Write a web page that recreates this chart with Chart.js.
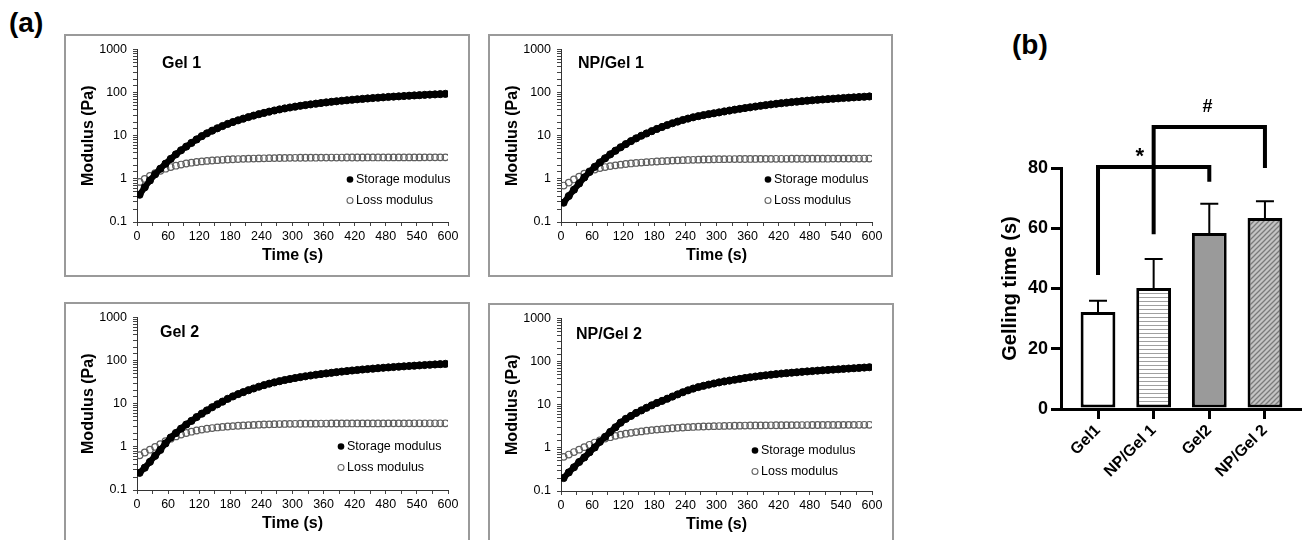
<!DOCTYPE html>
<html>
<head>
<meta charset="utf-8">
<script src="https://cdn.jsdelivr.net/npm/chart.js@4.4.1/dist/chart.umd.min.js"></script>
<style>
  body { margin: 0; width: 1302px; height: 540px; background: #fff; position: relative; overflow: hidden;
         font-family: "Liberation Sans", Arial, sans-serif; }
  .panel { position: absolute; border: 2px solid #9a9a9a; box-sizing: border-box; }
  .panel canvas { position: absolute; left: 0; top: 0; }
  .tag { position: absolute; font-weight: bold; font-size: 28px; line-height: 32px; }
  #bars { position: absolute; left: 990px; top: 60px; }
</style>
</head>
<body>
<div class="tag" style="left:9px;top:7px">(a)</div>
<div class="tag" style="left:1012px;top:29px">(b)</div>

<div class="panel" style="left:64px;top:34px;width:406px;height:243px"><canvas id="c1" width="402" height="239"></canvas></div>
<div class="panel" style="left:488px;top:34px;width:405px;height:243px"><canvas id="c2" width="401" height="239"></canvas></div>
<div class="panel" style="left:64px;top:302px;width:406px;height:250px"><canvas id="c3" width="402" height="239"></canvas></div>
<div class="panel" style="left:488px;top:303px;width:406px;height:250px"><canvas id="c4" width="402" height="239"></canvas></div>
<canvas id="bars" width="312" height="480"></canvas>

<script>
// datos (a): tiempo en s, modulos en Pa
const times = [5, 15, 25, 35, 45, 55, 65, 75, 85, 95, 105, 115, 125, 135, 145, 155, 165, 175, 185, 195,
  205, 215, 225, 235, 245, 255, 265, 275, 285, 295, 305, 315, 325, 335, 345, 355, 365, 375, 385, 395,
  405, 415, 425, 435, 445, 455, 465, 475, 485, 495, 505, 515, 525, 535, 545, 555, 565, 575, 585, 595];

const gel1Storage = [0.43, 0.64, 0.92, 1.28, 1.72, 2.25, 2.9, 3.7, 4.6, 5.6,
  6.8, 8.2, 9.8, 11.4, 13.1, 14.9, 16.8, 18.8, 20.8, 22.8,
  24.9, 27.1, 29.3, 31.6, 33.9, 36.2, 38.5, 40.8, 43, 45.2,
  47.3, 49.4, 51.4, 53.4, 55.4, 57.4, 59.3, 61.2, 63, 64.8,
  66.6, 68.3, 70, 71.6, 73.2, 74.8, 76.3, 77.8, 79.3, 80.7,
  82.1, 83.5, 84.8, 86.1, 87.4, 88.7, 89.9, 91.1, 92.3, 93.5];
const gel1Loss = [0.85, 1.0, 1.17, 1.35, 1.54, 1.72, 1.88, 2.02, 2.15, 2.27,
  2.37, 2.46, 2.54, 2.61, 2.67, 2.72, 2.77, 2.81, 2.85, 2.88,
  2.91, 2.94, 2.96, 2.98, 3.0, 3.02, 3.03, 3.05, 3.06, 3.07,
  3.08, 3.09, 3.09, 3.1, 3.1, 3.11, 3.11, 3.12, 3.12, 3.12,
  3.13, 3.13, 3.13, 3.13, 3.14, 3.14, 3.14, 3.14, 3.14, 3.15,
  3.15, 3.15, 3.15, 3.15, 3.15, 3.16, 3.16, 3.16, 3.16, 3.16];

const npGel1Storage = [0.28, 0.4, 0.56, 0.78, 1.08, 1.45, 1.9, 2.4, 3.0, 3.7,
  4.5, 5.4, 6.4, 7.5, 8.7, 10.0, 11.3, 12.8, 14.4, 16.0,
  17.7, 19.5, 21.3, 23.2, 25.0, 26.8, 28.5, 30.1, 31.7, 33.2,
  34.8, 36.6, 38.4, 40.2, 42.0, 43.8, 45.6, 47.5, 49.4, 51.3,
  53.2, 55.0, 56.8, 58.5, 60.2, 61.8, 63.4, 65.0, 66.5, 68.0,
  69.4, 70.8, 72.2, 73.6, 75.0, 76.3, 77.6, 78.9, 80.2, 81.5];
const npGel1Loss = [0.7, 0.82, 0.97, 1.12, 1.32, 1.5, 1.65, 1.78, 1.88, 1.98,
  2.06, 2.14, 2.21, 2.28, 2.34, 2.39, 2.44, 2.49, 2.53, 2.57,
  2.61, 2.65, 2.69, 2.72, 2.75, 2.77, 2.79, 2.81, 2.83, 2.85,
  2.86, 2.87, 2.88, 2.88, 2.89, 2.89, 2.9, 2.9, 2.91, 2.91,
  2.91, 2.92, 2.92, 2.92, 2.93, 2.93, 2.93, 2.93, 2.94, 2.94,
  2.94, 2.94, 2.95, 2.95, 2.95, 2.95, 2.95, 2.96, 2.96, 2.96];

const gel2Storage = [0.25, 0.33, 0.45, 0.62, 0.85, 1.2, 1.65, 2.1, 2.65, 3.3,
  4.0, 4.9, 5.9, 7.0, 8.3, 9.7, 11.2, 13.0, 14.8, 16.7,
  18.6, 20.6, 22.6, 24.8, 27, 29.2, 31.3, 33.4, 35.5, 37.5,
  39.5, 41.4, 43.3, 45.2, 47, 48.8, 50.5, 52.2, 54, 55.6,
  57.3, 59, 60.6, 62.2, 63.7, 65.2, 66.7, 68.2, 69.6, 71,
  72.4, 73.7, 75, 76.3, 77.6, 78.9, 80.2, 81.5, 82.8, 84];
const gel2Loss = [0.64, 0.74, 0.86, 1.0, 1.15, 1.35, 1.55, 1.75, 1.93, 2.1,
  2.25, 2.4, 2.52, 2.63, 2.73, 2.82, 2.9, 2.97, 3.03, 3.09,
  3.14, 3.19, 3.23, 3.27, 3.3, 3.33, 3.36, 3.38, 3.4, 3.42,
  3.43, 3.44, 3.45, 3.46, 3.46, 3.47, 3.47, 3.48, 3.48, 3.48,
  3.49, 3.49, 3.49, 3.5, 3.5, 3.5, 3.5, 3.5, 3.51, 3.51,
  3.51, 3.51, 3.51, 3.52, 3.52, 3.52, 3.52, 3.52, 3.52, 3.52];

const npGel2Storage = [0.2, 0.27, 0.355, 0.47, 0.6, 0.79, 1.02, 1.38, 1.8, 2.34,
  3.0, 3.85, 4.7, 5.5, 6.46, 7.4, 8.5, 9.7, 11.0, 12.3,
  13.8, 15.5, 17.4, 19.5, 21.6, 23.7, 25.7, 27.5, 29.3, 31.1,
  33.0, 34.7, 36.3, 38.0, 39.8, 41.7, 43.4, 45.0, 46.6, 48.2,
  49.8, 51.3, 52.7, 54.1, 55.3, 56.6, 58.0, 59.2, 60.4, 61.7,
  63.0, 64.1, 65.3, 66.5, 67.8, 69.0, 70.3, 71.6, 72.8, 74.1];
const npGel2Loss = [0.62, 0.7, 0.8, 0.91, 1.04, 1.18, 1.33, 1.5, 1.64, 1.77,
  1.9, 2.02, 2.13, 2.23, 2.32, 2.41, 2.5, 2.58, 2.65, 2.72,
  2.79, 2.85, 2.91, 2.97, 3.02, 3.06, 3.1, 3.13, 3.16, 3.19,
  3.21, 3.23, 3.25, 3.26, 3.28, 3.29, 3.3, 3.31, 3.32, 3.33,
  3.34, 3.35, 3.35, 3.36, 3.37, 3.37, 3.38, 3.38, 3.39, 3.39,
  3.4, 3.4, 3.41, 3.41, 3.42, 3.42, 3.42, 3.43, 3.43, 3.43];

const logLabels = [0.1, 1, 10, 100, 1000];

// datos de la figura (b)
const barCategories = ['Gel1', 'NP/Gel 1', 'Gel2', 'NP/Gel 2'];
const gellingTime = [32.2, 40.2, 58.4, 63.4];
const gellingError = [3.7, 9.6, 9.7, 5.6];
// corchetes de significancia [posicion de categoria, valor]
const starBracket = [[1, 44.5], [1, 80.3], [3, 80.3], [3, 75.4]];
const hashBracket = [[2, 58], [2, 93.6], [4, 93.6], [4, 80]];

const FONT = '"Liberation Sans", Arial, sans-serif';
Chart.defaults.font.family = FONT;
Chart.defaults.color = '#000';

// titulo del panel y leyenda dibujados dentro del area
const panelText = {
  id: 'panelText',
  afterDraw(chart, args, opts) {
    const { ctx, chartArea } = chart;
    ctx.save();
    ctx.fillStyle = '#000';
    ctx.textBaseline = 'middle';
    ctx.font = 'bold 16px ' + FONT;
    ctx.fillText(opts.title, chartArea.left + opts.tx, chartArea.top + opts.ty);

    const lx = chartArea.left + opts.lx, ly = chartArea.top + opts.ly;
    ctx.beginPath();
    ctx.arc(lx, ly, 3.3, 0, Math.PI * 2);
    ctx.fill();
    ctx.beginPath();
    ctx.strokeStyle = '#666';
    ctx.lineWidth = 1.1;
    ctx.arc(lx, ly + 21, 3, 0, Math.PI * 2);
    ctx.stroke();
    ctx.font = '12.5px ' + FONT;
    ctx.fillText('Storage modulus', lx + 6, ly);
    ctx.fillText('Loss modulus', lx + 6, ly + 21);
    ctx.restore();
  }
};

const panelChart = (id, title, storage, loss, pos) => {
  const canvas = document.getElementById(id);
  const config = {
    type: 'scatter',
    data: {
      datasets: [
        {
          label: 'Storage modulus',
          data: times.map((t, i) => ({ x: t, y: storage[i] })),
          showLine: true,
          borderColor: '#000',
          borderWidth: 6,
          pointRadius: 3.6,
          pointBackgroundColor: '#000',
          pointBorderColor: '#000',
          pointBorderWidth: 1
        },
        {
          label: 'Loss modulus',
          data: times.map((t, i) => ({ x: t, y: loss[i] })),
          showLine: false,
          pointRadius: 3.3,
          pointBackgroundColor: 'rgba(0,0,0,0)',
          pointBorderColor: '#5e5e5e',
          pointBorderWidth: 1.2
        }
      ]
    },
    options: {
      responsive: false,
      animation: false,
      layout: { padding: { top: 10, right: canvas.width - 71 - 311, left: 0, bottom: 0 } },
      plugins: {
        legend: { display: false },
        tooltip: { enabled: false },
        panelText: Object.assign({ title: title }, pos)
      },
      scales: {
        x: {
          type: 'linear',
          min: 0,
          max: 600,
          ticks: {
            stepSize: 30,
            autoSkip: false,
            maxRotation: 0,
            padding: 3,
            font: { size: 12.5 },
            callback: (v) => (v % 60 === 0 ? String(v) : '')
          },
          grid: { drawOnChartArea: false, tickLength: 4, color: '#444' },
          border: { color: '#333', width: 1 },
          title: { display: true, text: 'Time (s)', font: { size: 16, weight: 'bold' }, padding: { top: 0, bottom: 10 } },
          afterFit: (s) => { s.height = 53; }
        },
        y: {
          type: 'logarithmic',
          min: 0.1,
          max: 1000,
          ticks: {
            autoSkip: false,
            padding: 6,
            font: { size: 12.5 },
            callback: (v) => (logLabels.some(l => Math.abs(l - v) < 1e-9) ? String(v) : '')
          },
          grid: { drawOnChartArea: false, tickLength: 4, color: '#444' },
          border: { color: '#333', width: 1 },
          title: { display: true, text: 'Modulus (Pa)', font: { size: 16, weight: 'bold' }, padding: { top: 13, bottom: 0 } },
          afterFit: (s) => { s.width = 71; }
        }
      }
    },
    plugins: [panelText]
  };
  return new Chart(canvas, config);
};

panelChart('c1', 'Gel 1', gel1Storage, gel1Loss, { tx: 25, ty: 14, lx: 213, ly: 130 });
panelChart('c2', 'NP/Gel 1', npGel1Storage, npGel1Loss, { tx: 17, ty: 14, lx: 207, ly: 130 });
panelChart('c3', 'Gel 2', gel2Storage, gel2Loss, { tx: 23, ty: 15, lx: 204, ly: 129 });
panelChart('c4', 'NP/Gel 2', npGel2Storage, npGel2Loss, { tx: 15, ty: 16, lx: 194, ly: 132 });

// rellenos con patron para las barras
const makePattern = (kind) => {
  const c = document.createElement('canvas');
  const g = c.getContext('2d');
  if (kind === 'lines') {
    c.width = 4; c.height = 4;
    g.fillStyle = '#fff'; g.fillRect(0, 0, 4, 4);
    g.fillStyle = '#a0a0a0'; g.fillRect(0, 1, 4, 1);
  } else {
    c.width = 5; c.height = 5;
    g.fillStyle = '#c4c4c4'; g.fillRect(0, 0, 5, 5);
    g.strokeStyle = '#7a7a7a'; g.lineWidth = 1.3;
    g.beginPath();
    g.moveTo(-1, 6); g.lineTo(6, -1);
    g.moveTo(-1, 1); g.lineTo(1, -1);
    g.moveTo(4, 6); g.lineTo(6, 4);
    g.stroke();
  }
  return g.createPattern(c, 'repeat');
};

const barFills = ['#ffffff', makePattern('lines'), '#9a9a9a', makePattern('hatch')];

// barras de error y simbolos de significancia
const errorBars = {
  id: 'errorBars',
  afterDatasetsDraw(chart) {
    const { ctx, scales: { x, y } } = chart;
    ctx.save();
    ctx.strokeStyle = '#000';
    ctx.lineWidth = 2;
    gellingTime.forEach((v, i) => {
      const px = x.getPixelForValue(i + 1);
      const top = y.getPixelForValue(v + gellingError[i]);
      ctx.beginPath();
      ctx.moveTo(px, y.getPixelForValue(v));
      ctx.lineTo(px, top);
      ctx.moveTo(px - 9, top);
      ctx.lineTo(px + 9, top);
      ctx.stroke();
    });
    ctx.fillStyle = '#000';
    ctx.textAlign = 'center';
    ctx.textBaseline = 'alphabetic';
    ctx.font = 'bold 22px ' + FONT;
    ctx.fillText('*', x.getPixelForValue(1.75), y.getPixelForValue(81.5));
    ctx.font = 'bold 18px ' + FONT;
    ctx.fillText('#', x.getPixelForValue(2.97), y.getPixelForValue(98.5));
    ctx.restore();
  }
};

const bracketSet = (pts) => ({
  type: 'line',
  data: pts.map(([x, y]) => ({ x: x, y: y })),
  borderColor: '#000',
  borderWidth: 4,
  pointRadius: 0,
  tension: 0,
  clip: false,
  borderJoinStyle: 'miter'
});

const barConfig = {
  type: 'bar',
  data: {
    datasets: [
      {
        type: 'bar',
        data: gellingTime.map((v, i) => ({ x: i + 1, y: v })),
        backgroundColor: barFills,
        borderColor: '#000',
        borderWidth: 3,
        borderSkipped: false,
        barPercentage: 0.625,
        categoryPercentage: 1
      },
      bracketSet(starBracket),
      bracketSet(hashBracket)
    ]
  },
  options: {
    responsive: false,
    animation: false,
    layout: { padding: { top: 108, right: 2, left: 0, bottom: 0 } },
    plugins: { legend: { display: false }, tooltip: { enabled: false } },
    scales: {
      x: {
        type: 'linear',
        min: 0.335,
        max: 4.63,
        offset: false,
        afterBuildTicks: (s) => { s.ticks = barCategories.map((c, i) => ({ value: i + 1 })); },
        ticks: {
          autoSkip: false,
          minRotation: 45,
          maxRotation: 45,
          padding: 2,
          font: { size: 16, weight: 'bold' },
          callback: (v) => barCategories[v - 1]
        },
        grid: { offset: false, drawOnChartArea: false, tickLength: 10, color: '#000', lineWidth: 3 },
        border: { color: '#000', width: 3 },
        afterFit: (s) => { s.height = 131; }
      },
      y: {
        min: 0,
        max: 80,
        ticks: { stepSize: 20, padding: 3, font: { size: 18, weight: 'bold' } },
        grid: { drawOnChartArea: false, tickLength: 10, color: '#000', lineWidth: 3 },
        border: { color: '#000', width: 3 },
        title: { display: true, text: 'Gelling time (s)', font: { size: 20, weight: 'bold' }, padding: { top: 8, bottom: 0 } },
        afterFit: (s) => { s.width = 71; }
      }
    }
  },
  plugins: [errorBars]
};

new Chart(document.getElementById('bars'), barConfig);
</script>
</body>
</html>
